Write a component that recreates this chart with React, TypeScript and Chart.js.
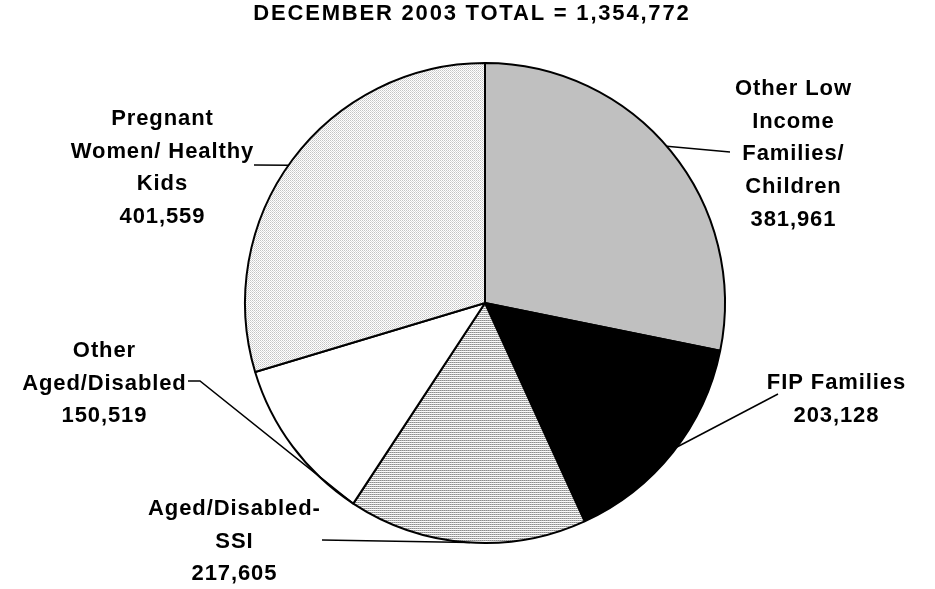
import React, { useEffect, useRef } from "react";
import { Chart, registerables } from "chart.js";

Chart.register(...registerables);

const titleText = "DECEMBER 2003 TOTAL = 1,354,772";
const categories = [
  "Other Low Income Families/ Children",
  "FIP Families",
  "Aged/Disabled-SSI",
  "Other Aged/Disabled",
  "Pregnant Women/ Healthy Kids",
];
const values = [381961, 203128, 217605, 150519, 401559];
const labelLines = [
  ["Other Low", "Income", "Families/", "Children", "381,961"],
  ["FIP Families", "203,128"],
  ["Aged/Disabled-", "SSI", "217,605"],
  ["Other", "Aged/Disabled", "150,519"],
  ["Pregnant", "Women/ Healthy", "Kids", "401,559"],
];

// layout (positions of label blocks and leader lines)
const labelLayout = [
  { x: 793, y: 95, leader: [[730, 152]], t: 0.485 },
  { x: 836, y: 389, leader: [[778, 394]], t: 0.47 },
  { x: 234, y: 515, leader: [[322, 540]], t: 0.486 },
  { x: 104, y: 357, leader: [[188, 381], [200, 381]], t: 0 },
  { x: 162, y: 125, leader: [[254, 165]], t: 0.485 },
];
const LINE_H = 32.7;
const FONT = 'bold 22px "Liberation Sans", Arial, sans-serif';

function makePattern(cells: string[][]): CanvasPattern | string {
  const h = cells.length;
  const w = cells[0].length;
  const c = document.createElement("canvas");
  c.width = w;
  c.height = h;
  const g = c.getContext("2d");
  if (!g) return "#ddd";
  for (let y = 0; y < h; y++) {
    for (let x = 0; x < w; x++) {
      g.fillStyle = cells[y][x];
      g.fillRect(x, y, 1, 1);
    }
  }
  const p = g.createPattern(c, "repeat");
  return p || "#ddd";
}

function spacedText(ctx: any, s: string, x: number, y: number, sp: number) {
  ctx.letterSpacing = sp + "px";
  const w = ctx.measureText(s).width;
  ctx.textAlign = "left";
  ctx.fillText(s, x - (w - sp) / 2, y);
}

export default function App() {
  const ref = useRef<HTMLCanvasElement | null>(null);
  useEffect(() => {
    if (!ref.current) return;
    const hatch = makePattern([
      ["#8c8c8c", "#b4b4b4"],
      ["#ffffff", "#f4f4f4"],
    ]);
    const dots = makePattern([
      ["#c4c4c4", "#ffffff"],
      ["#ffffff", "#d8d8d8"],
    ]);
    const labelsPlugin = {
      id: "labelsPlugin",
      afterDraw(chart: any) {
        const ctx = chart.ctx as CanvasRenderingContext2D;
        ctx.save();
        ctx.fillStyle = "#000";
        ctx.font = FONT;
        ctx.textBaseline = "alphabetic";
        spacedText(ctx, titleText, 471, 20, 1.8);
        const meta = chart.getDatasetMeta(0);
        meta.data.forEach((arc: any, i: number) => {
          const L = labelLayout[i];
          const a = arc.startAngle + (arc.endAngle - arc.startAngle) * L.t;
          const px = arc.x + arc.outerRadius * Math.cos(a);
          const py = arc.y + arc.outerRadius * Math.sin(a);
          ctx.beginPath();
          ctx.strokeStyle = "#000";
          ctx.lineWidth = 1.5;
          ctx.moveTo(L.leader[0][0], L.leader[0][1]);
          for (let k = 1; k < L.leader.length; k++) ctx.lineTo(L.leader[k][0], L.leader[k][1]);
          ctx.lineTo(px, py);
          ctx.stroke();
          labelLines[i].forEach((s, j) => {
            spacedText(ctx, s, L.x, L.y + j * LINE_H, 0.9);
          });
        });
        ctx.restore();
      },
    };
    const chart = new Chart(ref.current, {
      type: "pie",
      data: {
        labels: categories,
        datasets: [
          {
            data: values,
            backgroundColor: ["#c0c0c0", "#000000", hatch, "#ffffff", dots] as any,
            borderColor: "#000000",
            borderWidth: 2,
          },
        ],
      },
      options: {
        animation: false,
        responsive: true,
        maintainAspectRatio: false,
        layout: { padding: { left: 244, right: 209, top: 62, bottom: 45 } },
        plugins: { legend: { display: false }, tooltip: { enabled: false } },
      },
      plugins: [labelsPlugin],
    });
    return () => chart.destroy();
  }, []);
  return (
    <div style={{ position: "fixed", left: 0, top: 0, width: 935, height: 589, background: "#fff" }}>
      <canvas ref={ref} />
    </div>
  );
}
